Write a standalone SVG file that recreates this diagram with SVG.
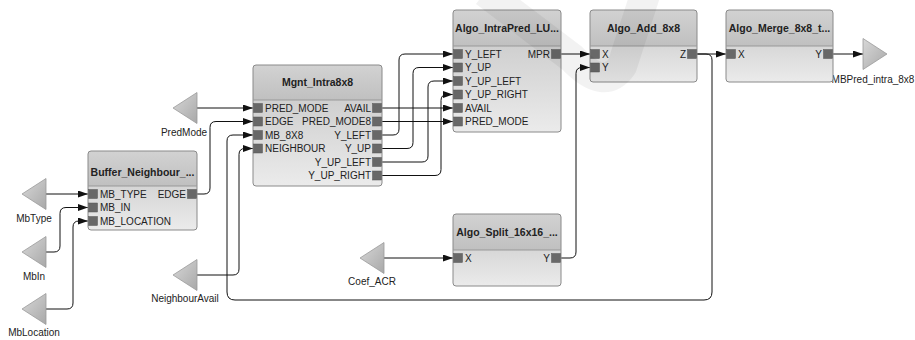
<svg xmlns="http://www.w3.org/2000/svg" width="915" height="340" viewBox="0 0 915 340">
<defs>
<linearGradient id="gBody" x1="0" y1="0" x2="0" y2="1"><stop offset="0" stop-color="#c4c4c4"/><stop offset="1" stop-color="#ebebeb"/></linearGradient>
<linearGradient id="gTitle" x1="0" y1="0" x2="0" y2="1"><stop offset="0" stop-color="#d2d2d2"/><stop offset="1" stop-color="#c0c0c0"/></linearGradient>
<linearGradient id="gTri" x1="0" y1="0" x2="1" y2="1"><stop offset="0" stop-color="#d8d8d8"/><stop offset="1" stop-color="#a8a8a8"/></linearGradient>
<marker id="arr" markerUnits="userSpaceOnUse" markerWidth="10" markerHeight="8" refX="10" refY="3.5" orient="auto"><path d="M0,0 L10,3.5 L0,7 Z" fill="#111"/></marker>
</defs>
<style>
.box{fill:url(#gBody);stroke:none}
.title{fill:url(#gTitle)}
.outline{fill:none;stroke:#8a8a8a;stroke-width:1}
.sep{stroke:#999;stroke-width:1}
.port{fill:#686868;stroke:#555;stroke-width:0.5}
.t{font-family:"Liberation Sans",Arial,sans-serif;font-size:10px;fill:#222}
.tb{font-family:"Liberation Sans",Arial,sans-serif;font-size:10.5px;font-weight:bold;fill:#222;text-anchor:middle}
.r{text-anchor:end}
.tri{fill:url(#gTri);stroke:#9a9a9a;stroke-width:0.8}
.lbl{font-family:"Liberation Sans",Arial,sans-serif;font-size:10px;fill:#222;text-anchor:middle}
.c{fill:none;stroke:#111;stroke-width:1}
.ca{fill:none;stroke:#111;stroke-width:1;marker-end:url(#arr)}
</style>
<rect width="915" height="340" fill="#fff"/>

<g id="connectors">
<path class="ca" d="M46,194 H88"/>
<path class="ca" d="M46,252 H54 Q60,252 60,246 V213.5 Q60,207.5 66,207.5 H88"/>
<path class="ca" d="M46,309 H67 Q73,309 73,303 V227 Q73,221 79,221 H88"/>
<path class="ca" d="M197,108 H253"/>
<path class="ca" d="M197,194 H204 Q210,194 210,188 V127.5 Q210,121.5 216,121.5 H253"/>
<path class="ca" d="M197,275 H233 Q239,275 239,269 V154.5 Q239,148.5 245,148.5 H253"/>
<path class="ca" d="M697,54 H706 Q712,54 712,60 V292 Q712,300 704,300 H235 Q227,300 227,292 V141 Q227,135 233,135 H253"/>
<path class="ca" d="M382,108 H453"/>
<path class="ca" d="M382,121.5 H453"/>
<path class="ca" d="M382,135 H393 Q399,135 399,129 V60 Q399,54 405,54 H453"/>
<path class="ca" d="M382,148.5 H407 Q413,148.5 413,142.5 V73.5 Q413,67.5 419,67.5 H453"/>
<path class="ca" d="M382,162 H422 Q428,162 428,156 V87 Q428,81 434,81 H453"/>
<path class="ca" d="M382,175.5 H435 Q441,175.5 441,169.5 V100.5 Q441,94.5 447,94.5 H453"/>
<path class="ca" d="M561,54 H590"/>
<path class="ca" d="M384,258 H453"/>
<path class="ca" d="M561,258 H570 Q576,258 576,252 V73.5 Q576,67.5 582,67.5 H590"/>
<path class="ca" d="M697,54 H726"/>
<path class="ca" d="M833,54 H863"/>
</g>

<g id="MbType"><path class="tri" d="M22,194 L46,178.5 L46,209.5 Z"/><text class="lbl" x="34" y="222">MbType</text></g>
<g id="MbIn"><path class="tri" d="M22,252 L46,236.5 L46,267.5 Z"/><text class="lbl" x="34" y="280">MbIn</text></g>
<g id="MbLocation"><path class="tri" d="M22,309 L46,293.5 L46,324.5 Z"/><text class="lbl" x="34" y="336">MbLocation</text></g>
<g id="PredMode"><path class="tri" d="M173,108 L197,92.5 L197,123.5 Z"/><text class="lbl" x="184" y="136">PredMode</text></g>
<g id="NeighbourAvail"><path class="tri" d="M173,275 L197,259.5 L197,290.5 Z"/><text class="lbl" x="185" y="302">NeighbourAvail</text></g>
<g id="Coef_ACR"><path class="tri" d="M360,258 L384,242.5 L384,273.5 Z"/><text class="lbl" x="372" y="285">Coef_ACR</text></g>
<g id="MBPred_intra_8x8"><path class="tri" d="M887,54 L863,38.5 L863,69.5 Z"/><text class="lbl" x="873" y="83">MBPred_intra_8x8</text></g>

<g id="Buffer_Neighbour" transform="translate(88,151)">
<rect class="box" x="0" y="0" width="109" height="79" rx="3"/>
<path class="title" d="M0,3 Q0,0 3,0 H106 Q109,0 109,3 V35 H0 Z"/>
<rect class="outline" x="0" y="0" width="109" height="79" rx="3"/>
<line class="sep" x1="0" y1="35" x2="109" y2="35"/>
<text class="tb" x="54.5" y="25">Buffer_Neighbour_...</text>
<rect class="port" x="0.5" y="38.5" width="9" height="9"/><text class="t" x="12" y="46.5">MB_TYPE</text>
<rect class="port" x="0.5" y="52" width="9" height="9"/><text class="t" x="12" y="60">MB_IN</text>
<rect class="port" x="0.5" y="65.5" width="9" height="9"/><text class="t" x="12" y="73.5">MB_LOCATION</text>
<rect class="port" x="99.5" y="38.5" width="9" height="9"/><text class="t r" x="98" y="46.5">EDGE</text>
</g>

<g id="Mgnt_Intra8x8" transform="translate(253,65)">
<rect class="box" x="0" y="0" width="129" height="121" rx="3"/>
<path class="title" d="M0,3 Q0,0 3,0 H126 Q129,0 129,3 V35 H0 Z"/>
<rect class="outline" x="0" y="0" width="129" height="121" rx="3"/>
<line class="sep" x1="0" y1="35" x2="129" y2="35"/>
<text class="tb" x="64.5" y="21">Mgnt_Intra8x8</text>
<rect class="port" x="0.5" y="38.5" width="9" height="9"/><text class="t" x="12" y="46.5">PRED_MODE</text>
<rect class="port" x="0.5" y="52" width="9" height="9"/><text class="t" x="12" y="60">EDGE</text>
<rect class="port" x="0.5" y="65.5" width="9" height="9"/><text class="t" x="12" y="73.5">MB_8X8</text>
<rect class="port" x="0.5" y="79" width="9" height="9"/><text class="t" x="12" y="87">NEIGHBOUR</text>
<rect class="port" x="119.5" y="38.5" width="9" height="9"/><text class="t r" x="118" y="46.5">AVAIL</text>
<rect class="port" x="119.5" y="52" width="9" height="9"/><text class="t r" x="118" y="60">PRED_MODE8</text>
<rect class="port" x="119.5" y="65.5" width="9" height="9"/><text class="t r" x="118" y="73.5">Y_LEFT</text>
<rect class="port" x="119.5" y="79" width="9" height="9"/><text class="t r" x="118" y="87">Y_UP</text>
<rect class="port" x="119.5" y="92.5" width="9" height="9"/><text class="t r" x="118" y="100.5">Y_UP_LEFT</text>
<rect class="port" x="119.5" y="106" width="9" height="9"/><text class="t r" x="118" y="114">Y_UP_RIGHT</text>
</g>

<g id="Algo_IntraPred_LU" transform="translate(453,10)">
<rect class="box" x="0" y="0" width="108" height="122" rx="3"/>
<path class="title" d="M0,3 Q0,0 3,0 H105 Q108,0 108,3 V36 H0 Z"/>
<rect class="outline" x="0" y="0" width="108" height="122" rx="3"/>
<line class="sep" x1="0" y1="36" x2="108" y2="36"/>
<text class="tb" x="54" y="22">Algo_IntraPred_LU...</text>
<rect class="port" x="0.5" y="39.5" width="9" height="9"/><text class="t" x="12" y="47.5">Y_LEFT</text>
<rect class="port" x="0.5" y="53" width="9" height="9"/><text class="t" x="12" y="61">Y_UP</text>
<rect class="port" x="0.5" y="66.5" width="9" height="9"/><text class="t" x="12" y="74.5">Y_UP_LEFT</text>
<rect class="port" x="0.5" y="80" width="9" height="9"/><text class="t" x="12" y="88">Y_UP_RIGHT</text>
<rect class="port" x="0.5" y="93.5" width="9" height="9"/><text class="t" x="12" y="101.5">AVAIL</text>
<rect class="port" x="0.5" y="107" width="9" height="9"/><text class="t" x="12" y="115">PRED_MODE</text>
<rect class="port" x="98.5" y="39.5" width="9" height="9"/><text class="t r" x="97" y="47.5">MPR</text>
</g>

<g id="Algo_Add_8x8" transform="translate(590,10)">
<rect class="box" x="0" y="0" width="107" height="72" rx="3"/>
<path class="title" d="M0,3 Q0,0 3,0 H104 Q107,0 107,3 V36 H0 Z"/>
<rect class="outline" x="0" y="0" width="107" height="72" rx="3"/>
<line class="sep" x1="0" y1="36" x2="107" y2="36"/>
<text class="tb" x="53.5" y="22">Algo_Add_8x8</text>
<rect class="port" x="0.5" y="39.5" width="9" height="9"/><text class="t" x="12" y="47.5">X</text>
<rect class="port" x="0.5" y="53" width="9" height="9"/><text class="t" x="12" y="61">Y</text>
<rect class="port" x="97.5" y="39.5" width="9" height="9"/><text class="t r" x="96" y="47.5">Z</text>
</g>

<g id="Algo_Merge_8x8" transform="translate(726,10)">
<rect class="box" x="0" y="0" width="107" height="72" rx="3"/>
<path class="title" d="M0,3 Q0,0 3,0 H104 Q107,0 107,3 V36 H0 Z"/>
<rect class="outline" x="0" y="0" width="107" height="72" rx="3"/>
<line class="sep" x1="0" y1="36" x2="107" y2="36"/>
<text class="tb" x="53.5" y="22">Algo_Merge_8x8_t...</text>
<rect class="port" x="0.5" y="39.5" width="9" height="9"/><text class="t" x="12" y="47.5">X</text>
<rect class="port" x="97.5" y="39.5" width="9" height="9"/><text class="t r" x="96" y="47.5">Y</text>
</g>

<g id="Algo_Split_16x16" transform="translate(453,214)">
<rect class="box" x="0" y="0" width="108" height="72" rx="3"/>
<path class="title" d="M0,3 Q0,0 3,0 H105 Q108,0 108,3 V36 H0 Z"/>
<rect class="outline" x="0" y="0" width="108" height="72" rx="3"/>
<line class="sep" x1="0" y1="36" x2="108" y2="36"/>
<text class="tb" x="54" y="22">Algo_Split_16x16_...</text>
<rect class="port" x="0.5" y="39.5" width="9" height="9"/><text class="t" x="12" y="47.5">X</text>
<rect class="port" x="98.5" y="39.5" width="9" height="9"/><text class="t r" x="97" y="47.5">Y</text>
</g>

<path d="M485,-8 L572,58 Q604,92 622,66 L646,-8" fill="none" stroke="#000" stroke-opacity="0.05" stroke-width="30" stroke-linejoin="round"/>
</svg>
